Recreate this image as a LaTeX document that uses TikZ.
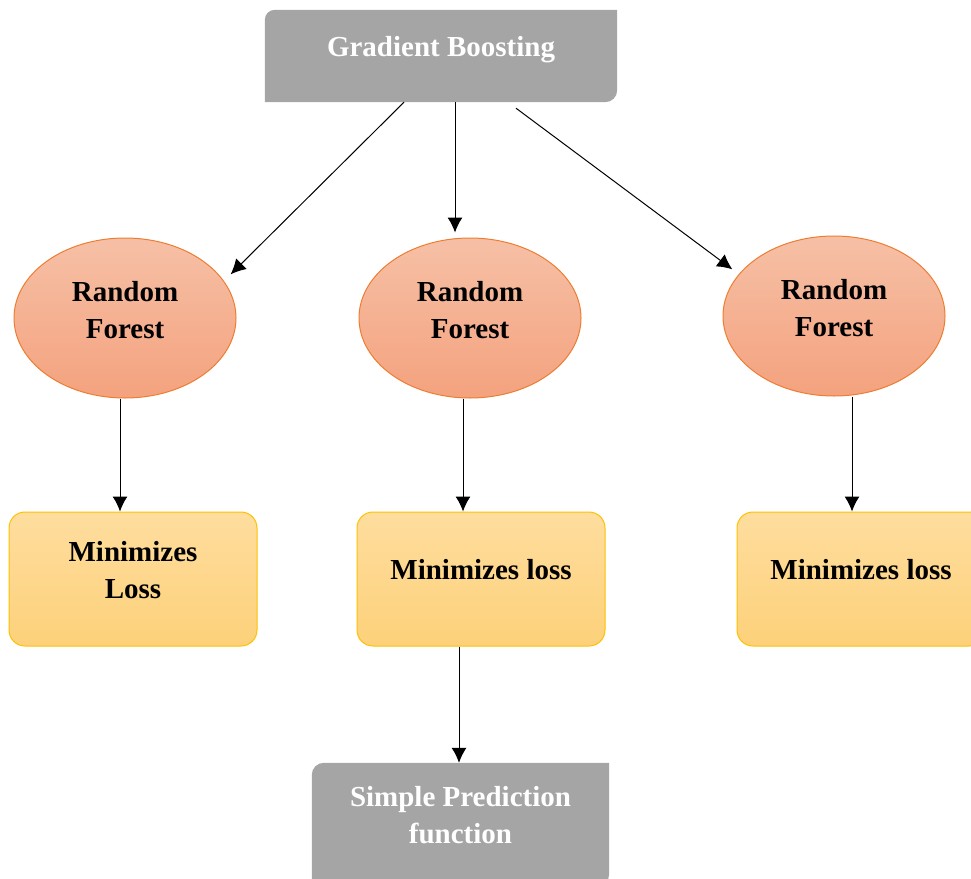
\documentclass[tikz,border=0pt]{standalone}
\usepackage{fontspec}
\setmainfont{Liberation Serif}
\usetikzlibrary{shapes.geometric,arrows.meta}
\definecolor{rfline}{HTML}{ED7D31}
\definecolor{rftop}{HTML}{F6C0A6}
\definecolor{rfbot}{HTML}{F4A27E}
\definecolor{mlline}{HTML}{FFC000}
\definecolor{mltop}{HTML}{FEDD9E}
\definecolor{mlbot}{HTML}{FDD17A}
\definecolor{gbfill}{HTML}{A5A5A5}

\begin{document}
\begin{tikzpicture}[x=1pt, y=-1pt, >={Latex[length=15pt,width=15pt]},
        every node/.style={font=\fontsize{29}{37}\selectfont\bfseries, align=center},
        forest/.style={ellipse, draw=rfline, line width=1pt, top color=rftop, bottom color=rfbot,
            minimum width=222pt, minimum height=160pt, inner sep=0pt},
        lossbox/.style={rectangle, rounded corners=16pt, draw=mlline, line width=1pt, top color=mltop,
            bottom color=mlbot, minimum width=248pt, minimum height=134pt, inner sep=0pt},
        greyshape/.style={rectangle, inner sep=0pt},
        greytext/.style={text=white},
        link/.style={->, line width=1pt}]
        \useasboundingbox (0,0) rectangle (971,878);

        % top box
        \node[greyshape, minimum width=352pt, minimum height=92pt] (gb) at (441,56) {};
        \fill[gbfill] (gb.south west) -- ([yshift=-10pt]gb.north west) arc[start angle=180, end angle=90, radius=10pt]
            -- (gb.north east) -- ([yshift=12pt]gb.south east) arc[start angle=0, end angle=-90, radius=12pt] -- cycle;
        \node[greytext] (gb-t) at ([yshift=6pt]gb.center) {Gradient Boosting};

        % forests
        \node[forest] (rf1) at (125,318) {};
        \node[forest] (rf2) at (470,318) {};
        \node[forest] (rf3) at (834,316) {};
        \node (rf1-t) at ([yshift=8pt]rf1.center) {Random\\Forest};
        \node (rf2-t) at ([yshift=8pt]rf2.center) {Random\\Forest};
        \node (rf3-t) at ([yshift=8pt]rf3.center) {Random\\Forest};

        % loss boxes
        \node[lossbox] (ml1) at (133,579) {};
        \node[lossbox] (ml2) at (481,579) {};
        \node[lossbox] (ml3) at (861,579) {};
        \node (ml1-t) at ([yshift=9pt]ml1.center) {Minimizes\\Loss};
        \node (ml2-t) at ([yshift=9pt]ml2.center) {Minimizes loss};
        \node (ml3-t) at ([yshift=9pt]ml3.center) {Minimizes loss};

        % bottom box
        \node[greyshape, minimum width=297pt, minimum height=123pt] (sp) at (460.5,824.5) {};
        \fill[gbfill] (sp.south west) -- ([yshift=-12pt]sp.north west) arc[start angle=180, end angle=90, radius=12pt]
            -- (sp.north east) -- ([yshift=12pt]sp.south east) arc[start angle=0, end angle=-90, radius=12pt] -- cycle;
        \node[greytext] (sp-t) at ([yshift=9pt]sp.center) {Simple Prediction\\function};

        % arrows
        \draw[link] ([xshift=-37pt]gb.south) -- ([xshift=12pt]rf1.25);
        \draw[link] ([xshift=14pt]gb.south) -- ([xshift=-15pt,yshift=5pt]rf2.north);
        \draw[link] ([xshift=75pt,yshift=-6pt]gb.south) -- ([shift={(-8pt,3pt)}]rf3.155);
        \draw[link] ([xshift=-5pt]rf1.south) -- ([xshift=-13pt]ml1.north);
        \draw[link] ([xshift=-7pt]rf2.south) -- ([xshift=-18pt]ml2.north);
        \draw[link] ([xshift=18pt]rf3.south) -- ([xshift=-9pt]ml3.north);
        \draw[link] ([xshift=-22pt]ml2.south) -- ([xshift=-1.5pt]sp.north);
\end{tikzpicture}
\end{document}
